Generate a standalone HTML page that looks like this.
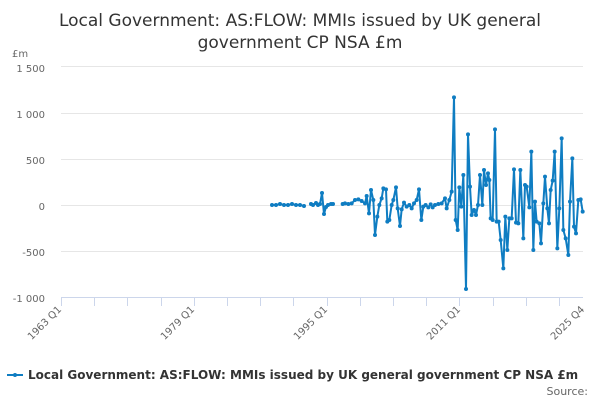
<!DOCTYPE html>
<html><head><meta charset="utf-8"><style>
body{margin:0;background:#fff;font-family:"Liberation Sans","DejaVu Sans",sans-serif}
</style></head><body>
<svg id="s" width="600" height="400" xmlns="http://www.w3.org/2000/svg" font-family="DejaVu Sans, Liberation Sans, sans-serif">
<text x="300" y="26" text-anchor="middle" font-size="17" fill="#333">Local Government: AS:FLOW: MMIs issued by UK general</text>
<text x="300" y="48" text-anchor="middle" font-size="17" fill="#333">government CP NSA £m</text>
<text x="12" y="57" font-size="10" fill="#666">£m</text>
<g stroke="#e6e6e6" stroke-width="1">
<line x1="61" x2="583" y1="66.5" y2="66.5"/><line x1="61" x2="583" y1="113.5" y2="113.5"/>
<line x1="61" x2="583" y1="159.5" y2="159.5"/><line x1="61" x2="583" y1="205.5" y2="205.5"/>
<line x1="61" x2="583" y1="251.5" y2="251.5"/>
</g>
<line x1="61" x2="583" y1="297.5" y2="297.5" stroke="#ccd6eb"/>
<g font-size="10" fill="#666" text-anchor="end">
<text x="45" y="72">1 500</text><text x="45" y="118">1 000</text><text x="45" y="164">500</text>
<text x="45" y="210">0</text><text x="45" y="256">-500</text><text x="45" y="302">-1 000</text>
</g>
<g id="ticks" stroke="#ccd6eb"></g>
<g font-size="10" fill="#666" text-anchor="end">
<text transform="translate(62,310) rotate(-45)">1963 Q1</text>
<text transform="translate(195,310) rotate(-45)">1979 Q1</text>
<text transform="translate(328,310) rotate(-45)">1995 Q1</text>
<text transform="translate(461,310) rotate(-45)">2011 Q1</text>
<text transform="translate(585,310) rotate(-45)">2025 Q4</text>
</g>
<g id="d"></g>
<line x1="7" x2="23" y1="375" y2="375" stroke="#0f7dc2" stroke-width="2"/>
<circle cx="15" cy="375" r="2" fill="#0f7dc2"/>
<text x="28" y="379" font-size="12" font-weight="bold" fill="#333">Local Government: AS:FLOW: MMIs issued by UK general government CP NSA £m</text>
<text x="588" y="395" font-size="11" fill="#666" text-anchor="end">Source:</text>
</svg>
<script>
var NS="http://www.w3.org/2000/svg",t=document.getElementById('ticks'),d=document.getElementById('d');
for(var x=61;x<=584;x+=33.2){var l=document.createElementNS(NS,'line');l.setAttribute('x1',Math.round(x)+.5);l.setAttribute('x2',Math.round(x)+.5);l.setAttribute('y1',297);l.setAttribute('y2',306);t.appendChild(l);}
var s1=[[272,205],[276,205],[280,204],[284,205],[288,205],[292,204],[296,205],[300,205],[304,206]];
var s2=[[311,204],[313,205],[316,203],[318,205],[320,204],[322,193],[324,214],[326,207],[328,205],[331,204],[333,204]];
var z=[248,342,255,340,265,342,275,340,285,330,295,328,305,333,315,340,320,318,327,370,333,300,340,330,345,435,352,380,358,345,365,325,370,295,378,298,382,395,388,390,395,345,400,330,408,292,413,355,420,408,425,358,432,338,440,350,448,345,455,355,462,340,470,330,477,298,484,390,490,350,497,345,505,352,512,343,518,352,525,345,535,342,545,340,555,325,560,355,568,330,575,305,582,22,587,390,593,420,598,292,604,350,610,255,618,597,624,133,630,290,635,375,642,360,648,375,654,345,660,255,667,345,672,240,678,285,684,250,688,270,692,385,698,390,705,118,710,395,716,395,722,450,730,535,736,380,742,480,748,385,755,385,762,238,768,398,775,400,781,240,790,445,795,285,800,290,808,352,814,185,820,480,825,335,830,395,838,400,843,460,850,340,855,260,862,355,867,400,872,300,878,272,884,185,892,475,898,355,905,145,910,420,917,445,925,495,930,335,937,205,942,410,948,430,955,330,962,328,968,365];
var s3=[];for(var i=0;i<z.length;i+=2)s3.push([260+z[i]/3,90+z[i+1]/3]);
[s1,s2,s3].forEach(function(s){
var p=document.createElementNS(NS,'polyline');p.setAttribute('points',s.map(function(a){return a.join(',')}).join(' '));
p.setAttribute('fill','none');p.setAttribute('stroke','#0f7dc2');p.setAttribute('stroke-width','2');p.setAttribute('stroke-linejoin','round');d.appendChild(p);
s.forEach(function(a){var c=document.createElementNS(NS,'circle');c.setAttribute('cx',a[0]);c.setAttribute('cy',a[1]);c.setAttribute('r','2');c.setAttribute('fill','#0f7dc2');d.appendChild(c);});
});
</script>
</body></html>
